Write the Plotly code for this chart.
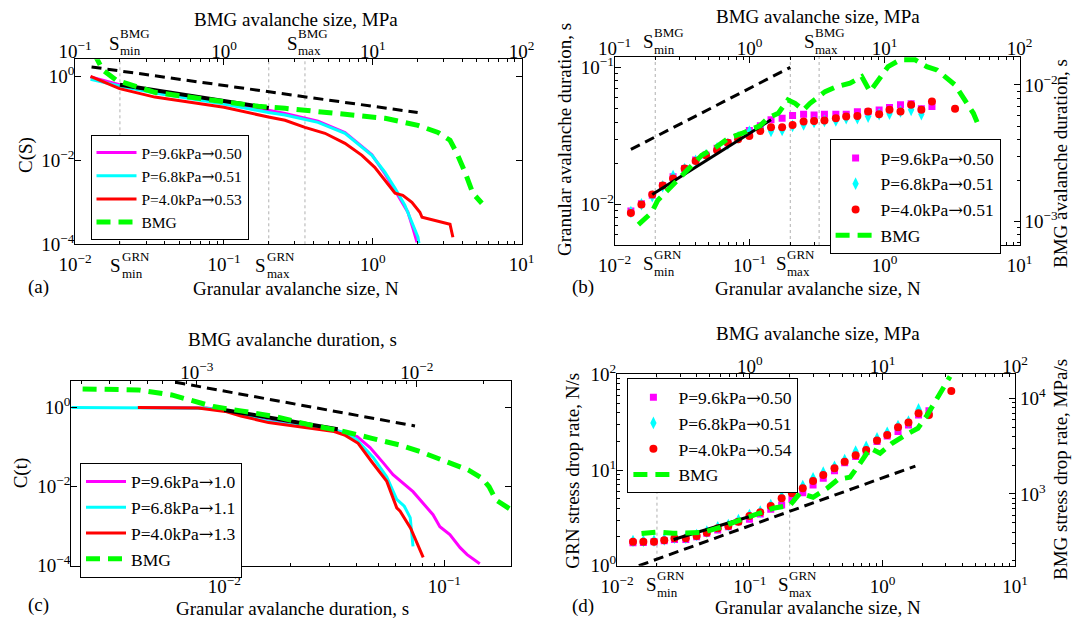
import numpy as np
import plotly.graph_objects as go

W, H = 1084, 621
OFF = 8  # page body margin of the html page
FONT = "Liberation Serif"
MAG, CYA, RED, GRN, BLK = "#FF00FF", "#00FFFF", "#FF0000", "#00FF00", "#000000"

# ---------------- (a) cumulative size distribution C(S) ----------------
a_mag_S = [0.0127, 0.0199, 0.0343, 0.1, 0.199, 0.257, 0.428, 0.65, 0.986, 1.205, 1.41, 1.6, 1.72, 1.86, 1.98]
a_mag_C = [0.96, 0.63, 0.42, 0.24, 0.155, 0.13, 0.085, 0.046, 0.0135, 0.0048, 0.0019, 0.00085, 0.00058, 0.00024, 0.000112]
a_cya_S = [0.0127, 0.0199, 0.0343, 0.1, 0.199, 0.257, 0.428, 0.65, 0.986, 1.205, 1.41, 1.64, 1.83, 2.01, 2.04]
a_cya_C = [0.85, 0.59, 0.40, 0.22, 0.137, 0.12, 0.08, 0.044, 0.01315, 0.0052, 0.00215, 0.00085, 0.000334, 0.000147, 0.000106]
a_red_S = [0.0127, 0.0199, 0.0343, 0.058, 0.1, 0.199, 0.257, 0.35, 0.477, 0.65, 0.845, 1.03, 1.205, 1.41, 1.59, 1.83, 2.07, 2.14, 3.3, 3.45]
a_red_C = [1.0, 0.51, 0.32, 0.24, 0.183, 0.107, 0.0896, 0.061, 0.044, 0.0254, 0.01315, 0.0068, 0.00334, 0.00164, 0.00147, 0.001, 0.00058, 0.00044, 0.0003, 0.000147]
a_bmg_S = [0.133, 0.154, 0.19, 0.343, 0.762, 1.7, 2.57, 3.5, 6.5, 12.1, 20.1, 27.4, 33, 36.7, 41.6, 47, 54]
a_bmg_C = [3.7, 1.39, 0.80, 0.416, 0.283, 0.193, 0.173, 0.155, 0.124, 0.1, 0.068, 0.046, 0.03, 0.0147, 0.0052, 0.00164, 0.00095]
a_fit_S, a_fit_C = [0.02, 0.2], [0.63, 0.176]
a_ref_S, a_ref_C = [0.0129, 2.0], [1.67, 0.137]
a_marks = [0.02, 0.2, 0.35]
ARROW = '<span style="font-family:DejaVu Serif">→</span>'
a_names = ["P=9.6kPa" + ARROW + "0.50", "P=6.8kPa" + ARROW + "0.51", "P=4.0kPa" + ARROW + "0.53", "BMG"]

# ---------------- (b) duration vs size ----------------
size_bins = [0.0132, 0.0158, 0.019, 0.0227, 0.0271, 0.033, 0.0398, 0.0475, 0.0574, 0.069,
             0.0822, 0.0995, 0.12, 0.144, 0.174, 0.208, 0.251, 0.3, 0.358, 0.435,
             0.519, 0.628, 0.754, 0.91, 1.086, 1.31, 1.57, 1.87, 2.24, 3.27]
b_mag_T = [0.00893, 0.0101, 0.01164, 0.0137, 0.0159, 0.01828, 0.0211, 0.0229, 0.0257, 0.0282,
           0.0313, 0.0346, 0.0375, 0.0415, 0.0427, 0.0446, 0.0456, 0.0451, 0.0456, 0.0456,
           0.0456, 0.0475, 0.0475, 0.049, 0.051, 0.0535, 0.0545, 0.05, 0.052]
b_cya_T = [0.00879, 0.01, 0.01146, 0.01355, 0.0161, 0.0181, 0.0208, 0.0228, 0.0257, 0.0276,
           0.0309, 0.034, 0.036, 0.0344, 0.035, 0.0375, 0.0384, 0.040, 0.0407, 0.041,
           0.0426, 0.0426, 0.0438, 0.0456, 0.046, 0.0478, 0.0491, 0.0456]
b_red_T = [0.00863, 0.00995, 0.01178, 0.0137, 0.01545, 0.01828, 0.0207, 0.0228, 0.0249, 0.0282,
           0.0299, 0.0316, 0.0344, 0.0366, 0.0366, 0.0381, 0.0403, 0.0407, 0.041, 0.0426,
           0.0438, 0.0443, 0.0478, 0.0456, 0.0491, 0.0478, 0.0535, 0.0491, 0.0565, 0.05]
b_red_S = size_bins[:29] + [3.32]
b_bmg_S = [0.15, 0.188, 0.209, 0.25, 0.30, 0.362, 0.442, 0.554, 0.695, 0.874, 1.04, 1.19, 1.38, 1.63,
           1.92, 2.17, 2.5, 2.8, 3.62, 4.42, 5.54, 6.77, 7.79, 9.25, 10.6, 13.0, 16.8, 20.5, 24.3,
           33.2, 38.3, 45.4, 49.4]
b_bmg_T = [0.000946, 0.00116, 0.00143, 0.00172, 0.00206, 0.0025, 0.00305, 0.00346, 0.00406, 0.00441,
           0.00475, 0.00502, 0.00575, 0.0062, 0.00776, 0.00733, 0.00654, 0.00733, 0.00893, 0.00972,
           0.0103, 0.0115, 0.00893, 0.0112, 0.01363, 0.01528, 0.01528, 0.01363, 0.0129, 0.01,
           0.00798, 0.0062, 0.00508]
b_fit_S, b_fit_T = [0.019, 0.144], [0.0118, 0.0415]
b_ref_S, b_ref_T = [0.0132, 0.2], [0.0252, 0.1005]
b_marks = [0.02, 0.2, 0.327]
b_names = ["P=9.6kPa" + ARROW + "0.50", "P=6.8kPa" + ARROW + "0.51", "P=4.0kPa" + ARROW + "0.51", "BMG"]

# ---------------- (c) cumulative duration distribution C(t) ----------------
c_mag_t = [0.00405, 0.0083, 0.0101, 0.0119, 0.0159, 0.0191, 0.0245, 0.0313, 0.0402, 0.046, 0.0527,
           0.0585, 0.0721, 0.080, 0.0889, 0.0955, 0.106, 0.118, 0.127, 0.145]
c_mag_C = [1.0, 0.97, 0.85, 0.66, 0.46, 0.40, 0.34, 0.277, 0.184, 0.097, 0.0405,
           0.0201, 0.00747, 0.00394, 0.00195, 0.00097, 0.00061, 0.000286, 0.00019, 0.000112]
c_cya_t = [0.00202, 0.0083, 0.0101, 0.0119, 0.0159, 0.0191, 0.0245, 0.0316, 0.0352, 0.04, 0.0475,
           0.0548, 0.0608, 0.0658, 0.07, 0.0721]
c_cya_C = [1.0, 0.962, 0.83, 0.65, 0.442, 0.379, 0.33, 0.272, 0.233, 0.155, 0.055,
           0.0175, 0.0048, 0.0032, 0.00164, 0.00031]
c_red_t = [0.00405, 0.0076, 0.0101, 0.0119, 0.0159, 0.0191, 0.0245, 0.0316, 0.0352, 0.0406, 0.0469,
           0.0548, 0.0608, 0.063, 0.0703, 0.0802]
c_red_C = [1.0, 0.97, 0.8, 0.615, 0.417, 0.364, 0.30, 0.247, 0.203, 0.125, 0.042,
           0.0136, 0.0029, 0.0024, 0.00089, 0.000162]
c_bmg_t = [0.000303, 0.00054, 0.00077, 0.00096, 0.00119, 0.00159, 0.00228, 0.00327, 0.00469, 0.00625,
           0.00836, 0.01035, 0.01383, 0.01714, 0.0198, 0.0213, 0.0229, 0.0269]
c_bmg_C = [2.97, 2.8, 2.09, 1.5, 1.06, 0.824, 0.592, 0.364, 0.247, 0.167,
           0.1135, 0.0769, 0.043, 0.0264, 0.01625, 0.01, 0.0046, 0.00257]
c_fit_t, c_fit_C = [0.01, 0.0328], [0.873, 0.283]
c_ref_t, c_ref_C = [0.006, 0.0736], [4.38, 0.343]
c_names = ["P=9.6kPa" + ARROW + "1.0", "P=6.8kPa" + ARROW + "1.1", "P=4.0kPa" + ARROW + "1.3", "BMG"]

# ---------------- (d) stress drop rate vs size ----------------
d_mag_R = [1.74, 1.75, 1.78, 1.82, 1.88, 1.88, 2.01, 2.18, 2.36, 2.56, 2.88, 3.05, 3.47, 3.88, 4.31,
           4.94, 5.79, 6.97, 8.18, 9.84, 11.9, 13.8, 15.6, 19.8, 22.6, 25.2, 29.5, 37.6, 41.7]
d_cya_R = [1.81, 1.81, 1.82, 1.88, 1.96, 1.96, 2.09, 2.27, 2.52, 2.66, 3.0, 3.39, 3.67, 4.31, 5.26,
           5.94, 6.81, 8.18, 9.38, 10.8, 12.7, 15.6, 17.5, 21.4, 24.5, 28.8, 32.0, 43.0, 39.1]
d_red_R = [1.78, 1.78, 1.78, 1.85, 1.93, 1.93, 2.04, 2.21, 2.46, 2.60, 2.88, 3.31, 3.61, 4.2, 5.06,
           5.7, 6.43, 7.67, 8.87, 10.4, 12.2, 14.3, 16.2, 20.3, 23.2, 27.9, 31.3, 39.1, 37.6, 67.0]
d_red_S = size_bins[:29] + [3.3]
d_bmg_S = [0.153, 0.199, 0.264, 0.355, 0.445, 0.597, 0.748, 0.955, 1.2, 1.5, 2.01, 2.39, 3.0, 3.83,
           4.63, 5.7, 6.78, 8.07, 9.6, 11.8, 14.8, 18.5, 21.7, 24.9, 28.6, 32.3]
d_bmg_R = [385, 400, 388, 388, 397, 448, 505, 570, 643, 708, 761, 1016, 923, 1146,
           1422, 1493, 2089, 3000, 2661, 3381, 4102, 4853, 6637, 9057, 12700, 16900]
d_fit_S, d_fit_R = [0.0267, 0.124], [1.88, 3.58]
d_ref_S, d_ref_R = [0.0146, 1.77], [1.0, 11.0]
d_marks = [0.02, 0.2]
d_names = ["P=9.6kPa" + ARROW + "0.50", "P=6.8kPa" + ARROW + "0.51", "P=4.0kPa" + ARROW + "0.54", "BMG"]

# ---------------- helpers ----------------
def tlabel(v):
    e = int(round(np.log10(v)))
    return "10<sup>%s</sup>" % str(e).replace("-", "\u2212")

def minors(lo, hi):
    return [m * 10.0 ** e for e in range(lo, hi) for m in range(2, 10)]

STANDOFF = {"top": -7, "bottom": 3, "left": -4, "right": 0}

def logaxis(rng, majors, side, anchor, domain=None, overlaying=None, mlo=None, mhi=None, mirror=False):
    d = dict(type="log", range=rng, side=side, anchor=anchor, automargin=False,
             tickmode="array", tickvals=majors, ticktext=[tlabel(v) for v in majors],
             ticks="inside", ticklen=6, tickwidth=1, tickcolor="black",
             ticklabelstandoff=STANDOFF[side],
             showline=True, linecolor="black", linewidth=1, mirror=mirror,
             showgrid=False, zeroline=False,
             tickfont=dict(family=FONT, size=19, color="black"))
    if domain is not None:
        d["domain"] = domain
    if overlaying:
        d["overlaying"] = overlaying
    if mlo is not None:
        d["minor"] = dict(tickmode="array", tickvals=minors(mlo, mhi), ticks="inside",
                          ticklen=3, tickwidth=1, tickcolor="black", showgrid=False)
    return d

fig = go.Figure()
DASH_G = "14px,8px"
DASH_K = "10px,6px"

def line(x, y, xa, ya, color, width, dash=None, name=None, legend=None):
    fig.add_trace(go.Scatter(x=x, y=y, xaxis=xa, yaxis=ya, mode="lines",
                             line=dict(color=color, width=width, dash=dash),
                             name=name, showlegend=name is not None,
                             legend=legend, hoverinfo="skip"))

def marks(x, y, xa, ya, color, symbol, size, name, legend):
    fig.add_trace(go.Scatter(x=x, y=y, xaxis=xa, yaxis=ya, mode="markers",
                             marker=dict(color=color, symbol=symbol, size=size, line=dict(width=0)),
                             name=name, legend=legend, hoverinfo="skip"))

def vlines(vals, xa, ya, yr):
    for v in vals:
        fig.add_trace(go.Scatter(x=[v, v], y=[10 ** yr[0], 10 ** yr[1]], xaxis=xa, yaxis=ya,
                                 mode="lines", line=dict(color="#b0b0b0", width=1, dash="dot"),
                                 showlegend=False, hoverinfo="skip"))

# ranges
ra_x, ra_x2, ra_y = [-2, 1], [-1, 2], [-4, 0.405]
rb_x, rb_x2, rb_y, rb_y2 = [-2, 1], [-1, 2], [-2.298, -0.92], [-3.173, -1.793]
rc_x, rc_x2, rc_y = [-2.695, -0.695], [-3.57, -1.57], [-4, 0.68]
rd_x, rd_x2, rd_y, rd_y2 = [-2, 1], [-1, 2], [0, 2], [2.25, 4.25]

# ----- (a)
vlines(a_marks, "x", "y", ra_y)
line(a_mag_S, a_mag_C, "x", "y", MAG, 3, name=a_names[0], legend="legend")
line(a_cya_S, a_cya_C, "x", "y", CYA, 3, name=a_names[1], legend="legend")
line(a_red_S, a_red_C, "x", "y", RED, 3, name=a_names[2], legend="legend")
line(a_fit_S, a_fit_C, "x", "y", BLK, 4)
line(a_ref_S, a_ref_C, "x", "y", BLK, 3, dash=DASH_K)
line(a_bmg_S, a_bmg_C, "x2", "y", GRN, 5, dash=DASH_G, name=a_names[3], legend="legend")

# ----- (b)
vlines(b_marks, "x3", "y3", rb_y)
marks(size_bins[:29], b_mag_T, "x3", "y3", MAG, "square", 7, b_names[0], "legend2")
marks(size_bins[:28], b_cya_T, "x3", "y3", CYA, "diamond-tall", 9, b_names[1], "legend2")
marks(b_red_S, b_red_T, "x3", "y3", RED, "circle", 8, b_names[2], "legend2")
line(b_fit_S, b_fit_T, "x3", "y3", BLK, 3)
line(b_ref_S, b_ref_T, "x3", "y3", BLK, 3, dash=DASH_K)
line(b_bmg_S, b_bmg_T, "x4", "y4", GRN, 5, dash=DASH_G, name=b_names[3], legend="legend2")

# ----- (c)
line(c_mag_t, c_mag_C, "x5", "y5", MAG, 3, name=c_names[0], legend="legend3")
line(c_cya_t, c_cya_C, "x5", "y5", CYA, 3, name=c_names[1], legend="legend3")
line(c_red_t, c_red_C, "x5", "y5", RED, 3, name=c_names[2], legend="legend3")
line(c_fit_t, c_fit_C, "x5", "y5", BLK, 4)
line(c_ref_t, c_ref_C, "x5", "y5", BLK, 3, dash=DASH_K)
line(c_bmg_t, c_bmg_C, "x6", "y5", GRN, 5, dash=DASH_G, name=c_names[3], legend="legend3")

# ----- (d)
vlines(d_marks, "x7", "y7", rd_y)
marks(size_bins[:29], d_mag_R, "x7", "y7", MAG, "square", 7, d_names[0], "legend4")
marks(size_bins[:29], d_cya_R, "x7", "y7", CYA, "diamond-tall", 9, d_names[1], "legend4")
marks(d_red_S, d_red_R, "x7", "y7", RED, "circle", 8, d_names[2], "legend4")
line(d_fit_S, d_fit_R, "x7", "y7", BLK, 3)
line(d_ref_S, d_ref_R, "x7", "y7", BLK, 3, dash=DASH_K)
line(d_bmg_S, d_bmg_R, "x8", "y8", GRN, 5, dash=DASH_G, name=d_names[3], legend="legend4")

# ---------------- axes (domains in window px -> paper) ----------------
def px_x(a): return (a - OFF) / W
def px_y(b): return 1 - (b - OFF) / H
def dx(a, b): return [px_x(a), px_x(b)]
def dy(top, bot): return [px_y(bot), px_y(top)]

A_X, A_Y = dx(75.1, 521.7), dy(59.3, 244.3)
B_X, B_Y = dx(614.6, 1019.7), dy(56.7, 245.0)
C_X, C_Y = dx(71.3, 511.4), dy(380.7, 565.7)
D_X, D_Y = dx(617.0, 1015.2), dy(374.3, 565.7)

lay = dict(
    xaxis=logaxis(ra_x, [0.01, 0.1, 1, 10], "bottom", "y", A_X, mlo=-2, mhi=1),
    xaxis2=logaxis(ra_x2, [0.1, 1, 10, 100], "top", "y", A_X, overlaying="x", mlo=-1, mhi=2),
    yaxis=logaxis(ra_y, [1e-4, 1e-2, 1], "left", "x", A_Y, mirror="ticks"),
    xaxis3=logaxis(rb_x, [0.01, 0.1, 1, 10], "bottom", "y3", B_X, mlo=-2, mhi=1),
    xaxis4=logaxis(rb_x2, [0.1, 1, 10, 100], "top", "y3", B_X, overlaying="x3", mlo=-1, mhi=2),
    yaxis3=logaxis(rb_y, [0.01, 0.1], "left", "x3", B_Y, mlo=-3, mhi=0),
    yaxis4=logaxis(rb_y2, [0.001, 0.01], "right", "x3", B_Y, overlaying="y3", mlo=-4, mhi=-1),
    xaxis5=logaxis(rc_x, [0.01, 0.1], "bottom", "y5", C_X, mlo=-3, mhi=0),
    xaxis6=logaxis(rc_x2, [0.001, 0.01], "top", "y5", C_X, overlaying="x5", mlo=-4, mhi=-1),
    yaxis5=logaxis(rc_y, [1e-4, 1e-2, 1], "left", "x5", C_Y, mirror="ticks"),
    xaxis7=logaxis(rd_x, [0.01, 0.1, 1, 10], "bottom", "y7", D_X, mlo=-2, mhi=1),
    xaxis8=logaxis(rd_x2, [1, 10, 100], "top", "y7", D_X, overlaying="x7", mlo=-1, mhi=2),
    yaxis7=logaxis(rd_y, [1, 10, 100], "left", "x7", D_Y, mlo=0, mhi=2),
    yaxis8=logaxis(rd_y2, [1000, 10000], "right", "x7", D_Y, overlaying="y7", mlo=2, mhi=4),
)

def leg(xpx, ypx, size):
    return dict(x=px_x(xpx), y=px_y(ypx), xanchor="left", yanchor="top",
                bgcolor="white", bordercolor="black", borderwidth=1,
                font=dict(family=FONT, size=size, color="black"),
                itemwidth=40, tracegroupgap=0, itemsizing="trace")

fig.update_layout(
    template="none",
    width=W, height=H, margin=dict(l=0, r=0, t=0, b=0, pad=0, autoexpand=False),
    paper_bgcolor="white", plot_bgcolor="white",
    font=dict(family=FONT, size=19, color="black"),
    legend=leg(90.5, 135, 15.5), legend2=leg(829.6, 139, 17.5),
    legend3=leg(80, 462.7, 17.5), legend4=leg(627.4, 378.3, 17.5),
    **lay)

# ---------------- text ----------------
def txt(x, y, s, size=19, angle=0, xanchor="center"):
    fig.add_annotation(x=px_x(x), y=px_y(y), xref="paper", yref="paper", text=s,
                       showarrow=False, textangle=angle, xanchor=xanchor, yanchor="middle",
                       borderpad=0, font=dict(family=FONT, size=size, color="black"))

def slab(xs, ys, xt, sup, sub):
    txt(xs, ys, "S", 19)
    txt(xt, ys - 9, sup, 13, xanchor="left")
    txt(xt, ys + 8, sub, 13, xanchor="left")

# (a)
txt(296, 19.5, "BMG avalanche size, MPa")
txt(296, 288, "Granular avalanche size, N")
txt(26, 155, "C(S)", angle=-90)
txt(38, 287, "(a)")
slab(114.5, 43, 118.8, "BMG", "min")
slab(292.7, 43, 296.8, "BMG", "max")
slab(115.2, 265, 120.5, "GRN", "min")
slab(260.8, 265, 265.8, "GRN", "max")
# (b)
txt(817.5, 17, "BMG avalanche size, MPa")
txt(817.5, 288, "Granular avalanche size, N")
txt(564, 140, "Granular avalanche duration, s", angle=-90)
txt(1060, 164, "BMG avalanche duration, s", angle=-90)
txt(583.4, 287, "(b)")
slab(648, 41.7, 652.7, "BMG", "min")
slab(809, 41.7, 814, "BMG", "max")
slab(648.3, 263.3, 652.7, "GRN", "min")
slab(781.7, 263.3, 786.3, "GRN", "max")
# (c)
txt(292.7, 339, "BMG avalanche duration, s")
txt(292, 608, "Granular avalanche duration, s")
txt(21.3, 473, "C(t)", angle=-90)
txt(38, 605, "(c)")
# (d)
txt(817.5, 333, "BMG avalanche size, MPa")
txt(817.5, 607, "Granular avalanche size, N")
txt(573, 470.7, "GRN stress drop rate, N/s", angle=-90)
txt(1060, 470, "BMG stress drop rate, MPa/s", angle=-90)
txt(583.4, 606, "(d)")
slab(651, 584, 655.5, "GRN", "min")
slab(783.8, 584, 788.3, "GRN", "max")

fig.write_html("out.html")
